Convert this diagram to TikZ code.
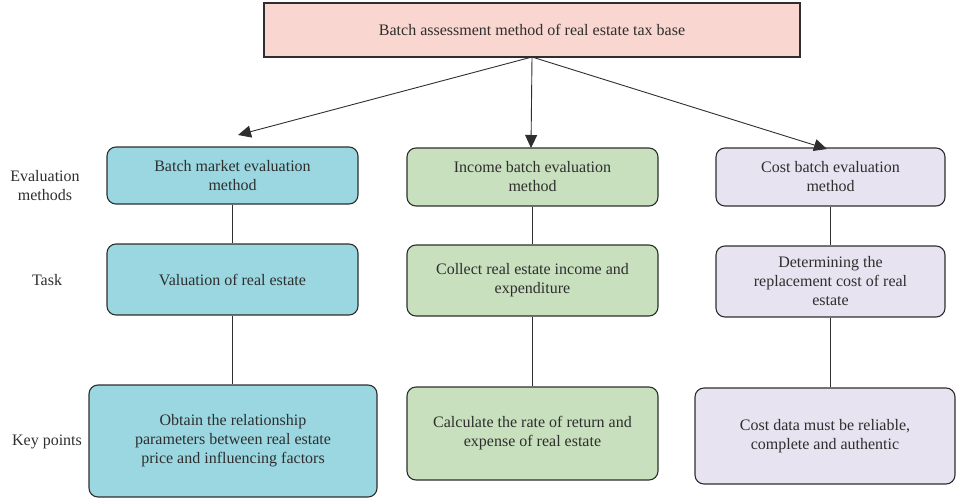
\documentclass[tikz,border=0pt]{standalone}
\usepackage{fontspec}
\setmainfont{Liberation Serif}
\usetikzlibrary{arrows.meta}
\definecolor{ink}{HTML}{2E2E2E}
\definecolor{headfill}{HTML}{F9D6CF}
\definecolor{bluefill}{HTML}{9BD7E1}
\definecolor{greenfill}{HTML}{C8E0BD}
\definecolor{lilacfill}{HTML}{E8E3F0}
\tikzset{
  txt/.style={text=ink, font=\fontsize{16}{19}\selectfont},
  box/.style={txt, draw=ink, line width=1.1pt, rounded corners=9pt, align=center, inner sep=2pt},
  headbox/.style={txt, draw=ink, line width=1.1pt, fill=headfill, align=center},
  rowlabel/.style={txt, align=center},
  link/.style={draw=ink, line width=0.9pt},
  pointer/.style={draw=ink, line width=0.9pt, -{Triangle[length=13pt,width=12pt]}}
}
\begin{document}
\begin{tikzpicture}[x=1pt,y=-1pt]
\useasboundingbox (0,0) rectangle (956,498);

% head of the tree
\node[headbox, minimum width=536pt, minimum height=54pt] (top) at (532,30)
  {Batch assessment method of real estate tax base};

% row labels
\node[rowlabel] (lab1) at (45,186) {Evaluation\\methods};
\node[rowlabel] (lab2) at (47,280) {Task};
\node[rowlabel] (lab3) at (47,442) {Key points};

% market column
\node[box, fill=bluefill, minimum width=251pt, minimum height=57pt] (L1) at (232.5,175.5)
  {Batch market evaluation\\method};
\node[box, fill=bluefill, minimum width=251pt, minimum height=71pt] (L2) at (232.5,279.5)
  {Valuation of real estate};
\node[box, fill=bluefill, minimum width=288pt, minimum height=112pt] (L3) at (233,441)
  {Obtain the relationship\\parameters between real estate\\price and influencing factors};

% income column
\node[box, fill=greenfill, minimum width=251pt, minimum height=58pt] (M1) at (532.5,177)
  {Income batch evaluation\\method};
\node[box, fill=greenfill, minimum width=251pt, minimum height=71pt] (M2) at (532.5,280.5)
  {Collect real estate income and\\expenditure};
\node[box, fill=greenfill, minimum width=251pt, minimum height=93pt] (M3) at (532.5,433.5)
  {Calculate the rate of return and\\expense of real estate};

% cost column
\node[box, fill=lilacfill, minimum width=229pt, minimum height=58pt] (R1) at (830.5,177)
  {Cost batch evaluation\\method};
\node[box, fill=lilacfill, minimum width=229pt, minimum height=71pt] (R2) at (830.5,281.5)
  {Determining the\\replacement cost of real\\estate};
\node[box, fill=lilacfill, minimum width=260pt, minimum height=96pt] (R3) at (825,436)
  {Cost data must be reliable,\\complete and authentic};

% arrows from the head
\coordinate (src) at (532,57);
\coordinate (tipL) at (238,135);
\coordinate (tipM) at (531,148);
\coordinate (tipR) at (827,149);
\draw[pointer] (src) -- (tipL);
\draw[pointer] (src) -- (tipM);
\draw[pointer] (src) -- (tipR);

% vertical links inside each column
\draw[link] (L1.south) -- (L2.north);
\draw[link] (L2.south) -- (L2.south |- L3.north);
\draw[link] (M1.south) -- (M2.north);
\draw[link] (M2.south) -- (M2.south |- M3.north);
\draw[link] (R1.south) -- (R2.north);
\draw[link] (R2.south) -- (R2.south |- R3.north);
\end{tikzpicture}
\end{document}
